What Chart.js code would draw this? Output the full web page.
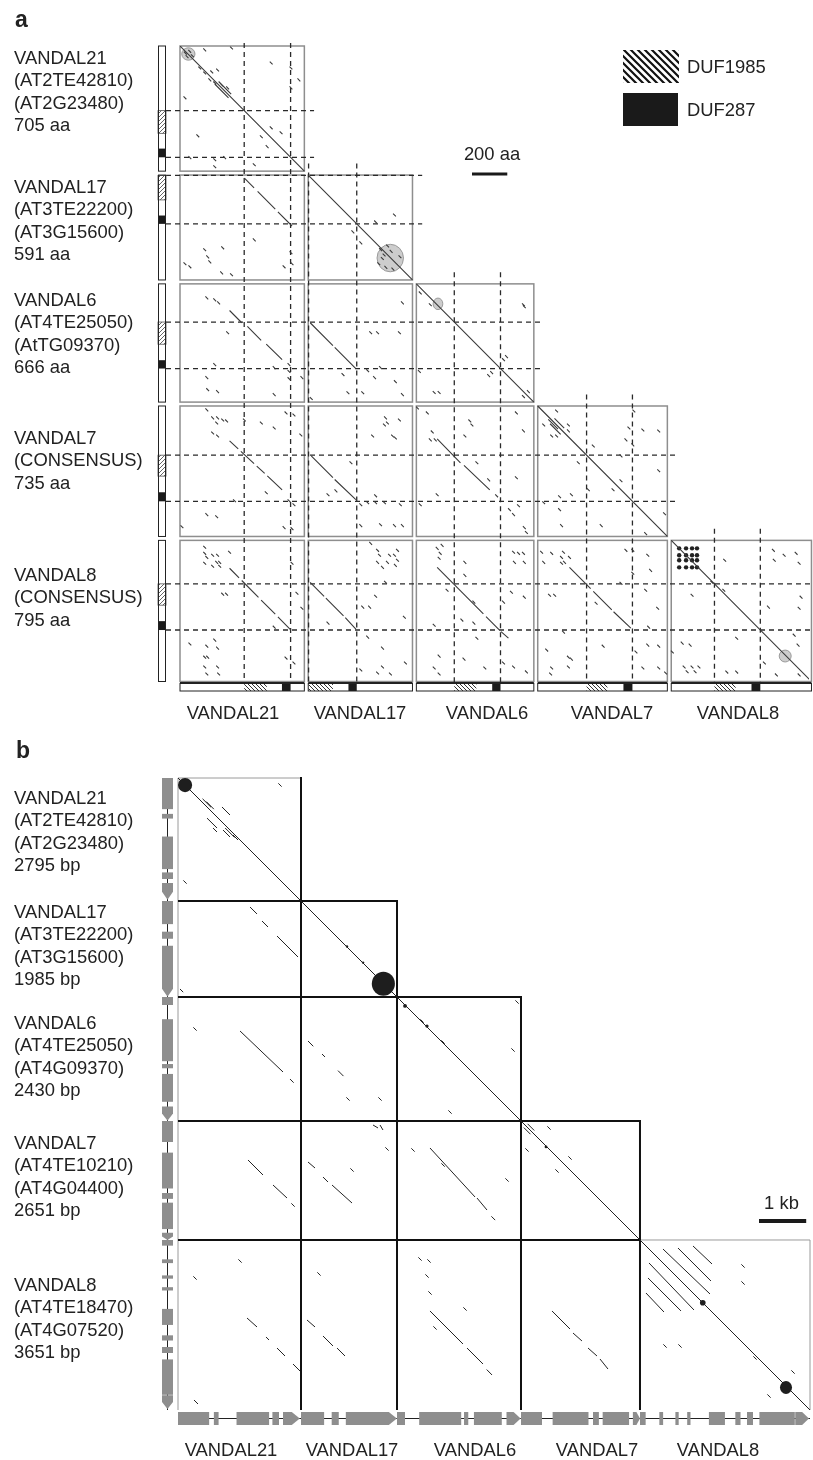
<!DOCTYPE html>
<html>
<head>
<meta charset="utf-8">
<title>VANDAL dot plots</title>
<script src="https://cdn.jsdelivr.net/npm/chart.js@4.4.1/dist/chart.umd.min.js"></script>
<style>
  html, body { margin: 0; padding: 0; background: #fff; }
  body { width: 813px; height: 1460px; overflow: hidden; position: relative; font-family: "Liberation Sans", Arial, sans-serif; color: #222; }
  canvas { position: absolute; left: 0; }
  #plotA { top: 0; }
  #plotB { top: 740px; }
  .txt { position: absolute; font-size: 18.4px; line-height: 22.5px; white-space: nowrap; }
  .mid { transform: translateX(-50%); }
  .tag { position: absolute; font-size: 23px; line-height: 23px; font-weight: bold; }
</style>
</head>
<body>
<canvas id="plotA" width="813" height="740"></canvas>
<canvas id="plotB" width="813" height="720"></canvas>
<script>
// ---------- panel a : protein dot plots (aa) ----------
var protNames = ['VANDAL21', 'VANDAL17', 'VANDAL6', 'VANDAL7', 'VANDAL8'];
var protIds = [['(AT2TE42810)', '(AT2G23480)'], ['(AT3TE22200)', '(AT3G15600)'], ['(AT4TE25050)', '(AtTG09370)'], ['(CONSENSUS)'], ['(CONSENSUS)']];
var protLen = [705, 591, 666, 735, 795];
var duf1985 = [[364, 492], [2, 140], [215, 340], [277, 395], [245, 365]];
var duf287 = [[578, 627], [228, 275], [430, 477], [486, 537], [455, 505]];

// hits per cell: segments [x1,y1,x2,y2], short hits [x,y], blobs [x1,y1,x2,y2]  (x = column element, y = row element)
var a21_21 = [[0, 0, 705, 705], [197, 214, 275, 292], [219, 200, 290, 271]];
var a21_21d = [[112, 124], [140, 152], [180, 146], [213, 135], [169, 191], [236, 219], [270, 236], [197, 208], [292, 11], [140, 22], [517, 96], [629, 124], [674, 191], [629, 236], [28, 292], [517, 461], [573, 489], [461, 511], [101, 506], [494, 567], [56, 629], [197, 641], [253, 629], [197, 680], [421, 669], [30, 40], [55, 30], [40, 60], [70, 55]];
var a21_21b = [[10, 10, 85, 80]];

var a17_21 = [[365, 17, 420, 72], [440, 92, 540, 192], [555, 207, 635, 287]];
var a17_21d = [[140, 421], [157, 461], [169, 489], [242, 410], [28, 500], [56, 517], [421, 365], [635, 500], [590, 517], [236, 551], [292, 562], [629, 438]];
var a17_17 = [[0, 0, 591, 591]];
var a17_17d = [[382, 264], [253, 320], [298, 382], [489, 225], [420, 470], [470, 430], [500, 500], [440, 520], [410, 420], [450, 400], [520, 460], [400, 500], [480, 530], [430, 450]];
var a17_17b = [[390, 390, 540, 545]];

var a6_21 = [[281, 150, 350, 219], [382, 240, 460, 318], [489, 340, 579, 427]];
var a6_21d = [[152, 79], [197, 90], [219, 107], [270, 275], [197, 455], [152, 528], [157, 596], [213, 607], [534, 472], [618, 494], [691, 528], [534, 624], [618, 455], [618, 534]];
var a6_17 = [[11, 219, 140, 348], [150, 358, 270, 478]];
var a6_17d = [[354, 275], [393, 275], [517, 275], [534, 107], [337, 489], [376, 528], [494, 551], [534, 624], [197, 511], [225, 613], [309, 613], [17, 646], [410, 472]];
var a6_6 = [[0, 0, 666, 666]];
var a6_6d = [[22, 51], [79, 118], [607, 118], [612, 129], [494, 427], [511, 410], [17, 494], [410, 517], [427, 500], [101, 612], [129, 612], [635, 607], [607, 635]];
var a6_6b = [[95, 80, 150, 145]];

var a7_21 = [[281, 197, 330, 242], [345, 256, 420, 325], [435, 339, 480, 380], [495, 394, 579, 472]];
var a7_21d = [[152, 22], [185, 67], [213, 67], [242, 79], [208, 96], [264, 84], [365, 79], [461, 96], [534, 124], [601, 39], [646, 51], [685, 163], [185, 152], [213, 169], [152, 612], [208, 624], [11, 680], [590, 685], [635, 691], [489, 489], [618, 534], [646, 556], [309, 534]];
var a7_17 = [[17, 281, 140, 404], [150, 414, 270, 528]];
var a7_17d = [[438, 67], [449, 96], [432, 107], [517, 79], [365, 169], [478, 169], [494, 180], [112, 500], [157, 478], [242, 320], [298, 556], [337, 545], [382, 545], [432, 545], [522, 556], [298, 674], [410, 669], [489, 674], [534, 674], [382, 506]];
var a7_6 = [[118, 185, 250, 320], [270, 335, 416, 472]];
var a7_6d = [[6, 11], [62, 39], [303, 84], [315, 107], [90, 146], [79, 191], [107, 191], [275, 169], [343, 320], [410, 416], [567, 404], [607, 140], [567, 39], [118, 500], [455, 506], [22, 556], [528, 584], [551, 612], [579, 562], [612, 685], [624, 713]];
var a7_7 = [[0, 0, 735, 735], [60, 75, 115, 130], [70, 100, 130, 160], [95, 70, 150, 125]];
var a7_7d = [[107, 28], [34, 107], [79, 169], [107, 169], [174, 107], [174, 140], [315, 225], [230, 320], [545, 28], [517, 124], [500, 191], [539, 219], [596, 135], [686, 141], [472, 281], [686, 365], [472, 421], [427, 472], [287, 472], [34, 545], [124, 511], [191, 500], [124, 584], [135, 674], [360, 674], [612, 719], [719, 607]];

var a8_21 = [[281, 157, 335, 211], [350, 226, 445, 321], [460, 336, 540, 416], [555, 431, 629, 505]];
var a8_21d = [[140, 39], [140, 73], [152, 96], [185, 84], [213, 84], [208, 124], [225, 124], [140, 129], [185, 146], [225, 146], [281, 67], [635, 129], [663, 298], [691, 382], [242, 303], [264, 303], [534, 489], [56, 584], [152, 596], [197, 562], [213, 607], [140, 658], [157, 658], [140, 713], [213, 713], [152, 753], [219, 753], [601, 663], [646, 691]];
var a8_17 = [[11, 236, 90, 315], [100, 325, 200, 425], [210, 435, 270, 500]];
var a8_17d = [[393, 56], [404, 84], [461, 84], [489, 84], [506, 112], [393, 124], [449, 124], [494, 141], [421, 152], [354, 17], [506, 56], [438, 236], [382, 315], [309, 376], [348, 376], [545, 433], [112, 466], [337, 545], [421, 607], [551, 691], [298, 730], [393, 747], [466, 753], [421, 713]];
var a8_6 = [[118, 152, 380, 414], [395, 429, 470, 504], [480, 514, 522, 551]];
var a8_6d = [[118, 45], [135, 73], [129, 101], [146, 28], [275, 124], [275, 197], [174, 281], [326, 348], [551, 67], [579, 73], [556, 124], [607, 73], [612, 124], [539, 292], [612, 320], [494, 348], [101, 478], [258, 449], [326, 466], [343, 551], [129, 652], [270, 669], [101, 719], [129, 753], [388, 719], [494, 691], [551, 713], [624, 741]];
var a8_7 = [[180, 152, 300, 272], [315, 287, 420, 392], [430, 402, 528, 494]];
var a8_7d = [[22, 67], [79, 73], [146, 67], [135, 96], [152, 124], [180, 96], [135, 129], [34, 124], [67, 309], [96, 309], [331, 354], [500, 56], [539, 56], [624, 84], [640, 169], [539, 185], [472, 242], [612, 281], [680, 382], [629, 489], [146, 517], [371, 596], [557, 629], [624, 590], [686, 596], [51, 618], [174, 658], [191, 669], [79, 719], [174, 713], [73, 753], [596, 719], [686, 719], [725, 747]];
var a8_8 = [[0, 0, 795, 795]];
var a8_8d = [[230, 236], [298, 281], [303, 112], [118, 309], [371, 551], [107, 590], [62, 579], [579, 56], [640, 84], [584, 112], [708, 73], [725, 129], [736, 320], [725, 382], [551, 376], [697, 534], [719, 590], [528, 691], [596, 758], [725, 758], [315, 742], [371, 742], [6, 629], [73, 713], [118, 713], [157, 713], [90, 740], [135, 740]];
var a8_8b = [[612, 618, 680, 685]];
var a8_8k = [[45, 45], [84, 45], [118, 45], [146, 45], [45, 84], [84, 84], [118, 84], [146, 84], [45, 112], [84, 112], [118, 112], [146, 112], [45, 152], [84, 152], [118, 152], [146, 152]];

// ---------- panel b : DNA dot plots (bp) ----------
var dnaIds = [['(AT2TE42810)', '(AT2G23480)'], ['(AT3TE22200)', '(AT3G15600)'], ['(AT4TE25050)', '(AT4G09370)'], ['(AT4TE10210)', '(AT4G04400)'], ['(AT4TE18470)', '(AT4G07520)']];
var dnaLen = [2795, 1985, 2430, 2651, 3651];
var dnaSpan = [2606, 2034, 2627, 2521, 3602]; // plotted window per element
// exon blocks, last one is the 3' arrow
var orf21 = [[0, 660], [760, 860], [1240, 1930], [2000, 2140], [2225, 2580]];
var orf17 = [[0, 490], [650, 800], [950, 2030]];
var orf6 = [[0, 170], [470, 1360], [1420, 1510], [1630, 2220], [2320, 2620]];
var orf7 = [[0, 445], [670, 1430], [1525, 1650], [1730, 2290], [2370, 2521]];
var orf8 = [[0, 120], [410, 490], [750, 820], [1000, 1070], [1460, 1800], [2020, 2130], [2267, 2395], [2530, 3280], [3290, 3580]];

var b21_21 = [[0, 0, 2606, 2606], [615, 850, 827, 1060], [932, 614, 1102, 784], [1000, 1060, 1200, 1260], [742, 1060, 826, 1144], [1165, 1208, 1271, 1313], [954, 1102, 1102, 1250], [520, 440, 700, 620], [600, 500, 760, 660]];
var b21_21d = [[2161, 148], [148, 2204]];
var b21_21b = [[0, 0, 300, 300]];
var b17_21 = [[1526, 127, 1674, 275], [1780, 424, 1907, 551], [2098, 742, 2543, 1187], [42, 1864, 110, 1932]];
var b17_17 = [[0, 0, 2034, 2034]];
var b17_17b = [[1500, 1500, 1990, 2010], [950, 940, 1000, 990], [1290, 1280, 1340, 1330]];
var b6_21 = [[1314, 720, 2225, 1589], [2373, 1738, 2450, 1815]];
var b6_21d = [[360, 678]];
var b6_17 = [[148, 932, 260, 1044], [445, 1208, 509, 1271], [784, 1560, 900, 1676]];
var b6_17d = [[996, 2161], [1674, 2161]];
var b6_6 = [[0, 0, 2627, 2627]];
var b6_6d = [[975, 954], [530, 508], [2543, 106], [2458, 1123], [1123, 2437]];
var b6_6b = [[130, 150, 210, 230], [600, 580, 670, 650]];
var b7_21 = [[1483, 826, 1801, 1144], [2013, 1356, 2310, 1632]];
var b7_21d = [[2437, 1780]];
var b7_17 = [[148, 869, 297, 996], [466, 1187, 572, 1293], [657, 1356, 1081, 1738], [1526, 85, 1632, 148], [1674, 85, 1737, 191]];
var b7_17d = [[1081, 1038], [1822, 593]];
var b7_6 = [[699, 572, 1653, 1610], [1695, 1632, 1907, 1886], [2000, 2020, 2080, 2100]];
var b7_6d = [[339, 614], [2331, 1250], [975, 932]];
var b7_7 = [[0, 0, 2521, 2521], [60, 140, 200, 280], [140, 60, 280, 200]];
var b7_7d = [[1038, 784], [127, 614], [763, 1059], [593, 148]];
var b7_7b = [[500, 520, 560, 580]];
var b8_21 = [[1462, 1653, 1674, 1843], [1865, 2055, 1928, 2119], [2098, 2289, 2267, 2458], [2437, 2628, 2585, 2776], [339, 3390, 424, 3475]];
var b8_21d = [[1314, 445], [360, 805]];
var b8_17 = [[127, 1695, 297, 1843], [466, 2034, 678, 2246], [763, 2289, 932, 2458]];
var b8_17d = [[381, 720]];
var b8_6 = [[699, 1504, 1398, 2204], [1483, 2289, 1822, 2628], [1900, 2745, 2013, 2860]];
var b8_6d = [[487, 403], [678, 445], [636, 763], [699, 1123], [1441, 1462], [805, 1864]];
var b8_7 = [[657, 1504, 1038, 1886], [1102, 1971, 1292, 2140], [1420, 2289, 1610, 2458], [1674, 2522, 1843, 2734]];
var b8_8 = [[0, 0, 3602, 3602], [1123, 127, 1526, 508], [805, 170, 1504, 869], [487, 191, 1483, 1144], [191, 487, 1144, 1483], [170, 805, 869, 1504], [127, 1123, 508, 1526]];
var b8_8d = [[2437, 2500], [2183, 551], [2183, 911], [530, 2246], [848, 2246], [3242, 2797], [2712, 2712], [2733, 3306]];
var b8_8b = [[2966, 2988, 3221, 3263], [1270, 1270, 1390, 1390]];

// ---------- cell tables ----------
var protCells = [
  [0, 0, a21_21, a21_21d, a21_21b],
  [1, 0, a17_21, a17_21d, []], [1, 1, a17_17, a17_17d, a17_17b],
  [2, 0, a6_21, a6_21d, []], [2, 1, a6_17, a6_17d, []], [2, 2, a6_6, a6_6d, a6_6b],
  [3, 0, a7_21, a7_21d, []], [3, 1, a7_17, a7_17d, []], [3, 2, a7_6, a7_6d, []], [3, 3, a7_7, a7_7d, []],
  [4, 0, a8_21, a8_21d, []], [4, 1, a8_17, a8_17d, []], [4, 2, a8_6, a8_6d, []], [4, 3, a8_7, a8_7d, []], [4, 4, a8_8, a8_8d, a8_8b]
];
var dnaCells = [
  [0, 0, b21_21, b21_21d, b21_21b],
  [1, 0, b17_21, [], []], [1, 1, b17_17, [], b17_17b],
  [2, 0, b6_21, b6_21d, []], [2, 1, b6_17, b6_17d, []], [2, 2, b6_6, b6_6d, b6_6b],
  [3, 0, b7_21, b7_21d, []], [3, 1, b7_17, b7_17d, []], [3, 2, b7_6, b7_6d, []], [3, 3, b7_7, b7_7d, b7_7b],
  [4, 0, b8_21, b8_21d, []], [4, 1, b8_17, b8_17d, []], [4, 2, b8_6, b8_6d, []], [4, 3, b8_7, [], []], [4, 4, b8_8, b8_8d, b8_8b]
];
var dnaOrfs = [orf21, orf17, orf6, orf7, orf8];

var gapAA = 22;
var protOff = [], protTotal = 0;
protLen.forEach(function (l, i) { protOff.push(protTotal); protTotal += l + (i < protLen.length - 1 ? gapAA : 0); });
var dnaOff = [], dnaTotal = 0;
dnaSpan.forEach(function (l) { dnaOff.push(dnaTotal); dnaTotal += l; });

function toPts(off, cell, tick) {
  var r = cell[0], c = cell[1], pts = [];
  cell[2].forEach(function (s) {
    pts.push({ x: off[c] + s[0], y: off[r] + s[1] }, { x: off[c] + s[2], y: off[r] + s[3] }, { x: null, y: null });
  });
  cell[3].forEach(function (d) {
    pts.push({ x: off[c] + d[0] - tick / 2, y: off[r] + d[1] - tick / 2 }, { x: off[c] + d[0] + tick / 2, y: off[r] + d[1] + tick / 2 }, { x: null, y: null });
  });
  return pts;
}

function hatch(ctx, back, color, gap, lw) {
  var c = document.createElement('canvas');
  c.width = gap; c.height = gap;
  var g = c.getContext('2d');
  g.strokeStyle = color; g.lineWidth = lw;
  g.beginPath();
  if (back) {
    g.moveTo(-1, -1); g.lineTo(gap + 1, gap + 1);
    g.moveTo(gap - 2, -2); g.lineTo(gap + 2, 2);
    g.moveTo(-2, gap - 2); g.lineTo(2, gap + 2);
  } else {
    g.moveTo(-1, gap + 1); g.lineTo(gap + 1, -1);
    g.moveTo(-2, 2); g.lineTo(2, -2);
    g.moveTo(gap - 2, gap + 2); g.lineTo(gap + 2, gap - 2);
  }
  g.stroke();
  return ctx.createPattern(c, 'repeat');
}

function seg(ctx, x0, y0, x1, y1) {
  ctx.beginPath(); ctx.moveTo(x0, y0); ctx.lineTo(x1, y1); ctx.stroke();
}

function drawBlobs(chart, off, cells, fill, stroke) {
  var ctx = chart.ctx, xs = chart.scales.x, ys = chart.scales.y;
  ctx.save();
  cells.forEach(function (cell) {
    cell[4].forEach(function (b) {
      var x0 = xs.getPixelForValue(off[cell[1]] + b[0]), x1 = xs.getPixelForValue(off[cell[1]] + b[2]);
      var y0 = ys.getPixelForValue(off[cell[0]] + b[1]), y1 = ys.getPixelForValue(off[cell[0]] + b[3]);
      ctx.beginPath();
      ctx.ellipse((x0 + x1) / 2, (y0 + y1) / 2, Math.abs(x1 - x0) / 2, Math.abs(y1 - y0) / 2, 0, 0, Math.PI * 2);
      ctx.fillStyle = fill; ctx.fill();
      if (stroke) { ctx.strokeStyle = stroke; ctx.lineWidth = 1; ctx.stroke(); }
    });
  });
  ctx.restore();
}

// ---------- panel a frame ----------
var protFrame = {
  id: 'protFrame',
  beforeDatasetsDraw: function (chart) {
    var ctx = chart.ctx, xs = chart.scales.x, ys = chart.scales.y;
    var sx = function (v) { return xs.getPixelForValue(v); }, sy = function (v) { return ys.getPixelForValue(v); };
    ctx.save();
    ctx.strokeStyle = '#8e8e8e'; ctx.lineWidth = 1.5;
    protCells.forEach(function (cell) {
      var r = cell[0], c = cell[1];
      var x0 = sx(protOff[c]), x1 = sx(protOff[c] + protLen[c]);
      var y0 = sy(protOff[r]), y1 = sy(protOff[r] + protLen[r]);
      ctx.strokeRect(x0, y0, x1 - x0, y1 - y0);
    });
    // blobs sit under the hits
    ctx.restore();
    drawBlobs(chart, protOff, protCells, '#cdcdcd', '#9a9a9a');
    ctx.save();
    // dashed guides at DUF1985 start and DUF287 end
    ctx.setLineDash([5, 4]); ctx.strokeStyle = '#2a2a2a'; ctx.lineWidth = 1.3;
    var bottom = sy(protTotal) + 1;
    for (var i = 0; i < protLen.length; i++) {
      [duf1985[i][0], duf287[i][1]].forEach(function (v) {
        var y = sy(protOff[i] + v);
        seg(ctx, 166, y, sx(protOff[i] + protLen[i] + 55), y);
        var x = sx(protOff[i] + v);
        seg(ctx, x, sy(Math.max(protOff[i] - 65, -17)), x, bottom);
      });
    }
    ctx.restore();
  },
  afterDraw: function (chart) {
    var ctx = chart.ctx, xs = chart.scales.x, ys = chart.scales.y;
    var sx = function (v) { return xs.getPixelForValue(v); }, sy = function (v) { return ys.getPixelForValue(v); };
    var slash = hatch(ctx, false, '#666', 4, 1);
    var back = hatch(ctx, true, '#333', 4, 1);
    ctx.save();
    // left domain bars
    for (var i = 0; i < protLen.length; i++) {
      var y0 = sy(protOff[i]), y1 = sy(protOff[i] + protLen[i]);
      ctx.fillStyle = '#fff'; ctx.fillRect(158, y0, 8, y1 - y0);
      ctx.fillStyle = slash;
      ctx.fillRect(158, sy(protOff[i] + duf1985[i][0]), 8, sy(protOff[i] + duf1985[i][1]) - sy(protOff[i] + duf1985[i][0]));
      ctx.strokeStyle = '#555'; ctx.lineWidth = 0.8;
      ctx.strokeRect(158, sy(protOff[i] + duf1985[i][0]), 8, sy(protOff[i] + duf1985[i][1]) - sy(protOff[i] + duf1985[i][0]));
      ctx.fillStyle = '#1a1a1a';
      ctx.fillRect(158, sy(protOff[i] + duf287[i][0]), 8, sy(protOff[i] + duf287[i][1]) - sy(protOff[i] + duf287[i][0]));
      ctx.strokeStyle = '#222'; ctx.lineWidth = 1;
      ctx.strokeRect(158.5, y0, 7, y1 - y0);
    }
    // bottom domain bars
    var by = Math.round(sy(protTotal)) + 1;
    for (var j = 0; j < protLen.length; j++) {
      var x0 = sx(protOff[j]), x1 = sx(protOff[j] + protLen[j]);
      ctx.fillStyle = '#fff'; ctx.fillRect(x0, by, x1 - x0, 8);
      ctx.fillStyle = back;
      ctx.fillRect(sx(protOff[j] + duf1985[j][0]), by, sx(protOff[j] + duf1985[j][1]) - sx(protOff[j] + duf1985[j][0]), 8);
      ctx.fillStyle = '#1a1a1a';
      ctx.fillRect(sx(protOff[j] + duf287[j][0]), by, sx(protOff[j] + duf287[j][1]) - sx(protOff[j] + duf287[j][0]), 8);
      ctx.strokeStyle = '#222'; ctx.lineWidth = 1;
      ctx.strokeRect(x0, by + 0.5, x1 - x0, 7.5);
      ctx.lineWidth = 2; seg(ctx, x0, by, x1, by);
    }
    // legend
    ctx.fillStyle = hatch(ctx, true, '#111', 7, 2.2);
    ctx.fillRect(623, 50, 56, 33);
    ctx.fillStyle = '#1a1a1a';
    ctx.fillRect(623, 93, 55, 33);
    // 200 aa scale bar
    ctx.fillRect(472, 172.5, sx(200) - sx(0), 3);
    ctx.restore();
  }
};

// ---------- panel b frame ----------
function drawOrf(ctx, orf, map, c, half, vertical) {
  var n = orf.length;
  ctx.fillStyle = '#8e8e8e';
  orf.forEach(function (e, k) {
    var a = map(e[0]), b = map(e[1]);
    var t = k === n - 1 ? Math.min(8, (b - a) / 2) : 0;
    ctx.beginPath();
    if (vertical) {
      ctx.moveTo(c - half, a); ctx.lineTo(c + half, a); ctx.lineTo(c + half, b - t);
      ctx.lineTo(c, b); ctx.lineTo(c - half, b - t);
    } else {
      ctx.moveTo(a, c - half); ctx.lineTo(a, c + half); ctx.lineTo(b - t, c + half);
      ctx.lineTo(b, c); ctx.lineTo(b - t, c - half);
    }
    ctx.closePath(); ctx.fill();
  });
}

var dnaFrame = {
  id: 'dnaFrame',
  beforeDatasetsDraw: function (chart) {
    var ctx = chart.ctx, xs = chart.scales.x, ys = chart.scales.y;
    var sx = function (v) { return xs.getPixelForValue(v); }, sy = function (v) { return ys.getPixelForValue(v); };
    var n = dnaSpan.length, last = dnaOff[n - 1];
    ctx.save();
    ctx.strokeStyle = '#9a9a9a'; ctx.lineWidth = 1;
    seg(ctx, sx(0), sy(0), sx(dnaOff[0] + dnaSpan[0]), sy(0));
    seg(ctx, sx(0), sy(0), sx(0), sy(dnaTotal));
    seg(ctx, sx(last), sy(last), sx(dnaTotal), sy(last));
    seg(ctx, sx(dnaTotal), sy(last), sx(dnaTotal), sy(dnaTotal));
    ctx.strokeStyle = '#111'; ctx.lineWidth = 2;
    for (var k = 1; k < n; k++) {
      var xr = k < n - 1 ? dnaOff[k] + dnaSpan[k] : dnaOff[k];
      seg(ctx, sx(0), sy(dnaOff[k]), sx(xr), sy(dnaOff[k]));
    }
    for (k = 0; k < n - 1; k++) {
      var xe = sx(dnaOff[k] + dnaSpan[k]);
      seg(ctx, xe, sy(dnaOff[k]) - 1, xe, sy(dnaTotal));
    }
    ctx.restore();
  },
  afterDatasetsDraw: function (chart) {
    drawBlobs(chart, dnaOff, dnaCells, '#1e1e1e', null);
  },
  afterDraw: function (chart) {
    var ctx = chart.ctx, xs = chart.scales.x, ys = chart.scales.y;
    ctx.save();
    for (var i = 0; i < dnaSpan.length; i++) {
      var o = dnaOff[i];
      var my = function (v) { return ys.getPixelForValue(o + v); };
      var mx = function (v) { return xs.getPixelForValue(o + v); };
      ctx.strokeStyle = '#222'; ctx.lineWidth = 1;
      seg(ctx, 167.5, my(0), 167.5, my(dnaSpan[i]));
      seg(ctx, mx(0), 678.5, mx(dnaSpan[i]), 678.5);
      drawOrf(ctx, dnaOrfs[i], my, 167.5, 5.5, true);
      drawOrf(ctx, dnaOrfs[i], mx, 678.5, 6.5, false);
    }
    // 1 kb scale bar
    ctx.fillStyle = '#1a1a1a';
    ctx.fillRect(759, 479, xs.getPixelForValue(1000) - xs.getPixelForValue(0), 4);
    ctx.restore();
  }
};

// ---------- charts ----------
var protSets = protCells.map(function (cell) {
  return { data: toPts(protOff, cell, 16), showLine: true, borderColor: '#3a3a3a', borderWidth: 1.1, pointRadius: 0, spanGaps: false };
});
protSets.push({
  data: a8_8k.map(function (p) { return { x: protOff[4] + p[0], y: protOff[4] + p[1] }; }),
  showLine: false, pointRadius: 2.2, pointBorderWidth: 0, backgroundColor: '#222'
});

var dnaSets = dnaCells.map(function (cell) {
  return { data: toPts(dnaOff, cell, 70), showLine: true, borderColor: '#222', borderWidth: 1, pointRadius: 0, spanGaps: false };
});

var baseOpts = function (pad, xmax, ymax) {
  return {
    responsive: false, animation: false, devicePixelRatio: 1, events: [],
    layout: { padding: pad },
    scales: {
      x: { type: 'linear', min: 0, max: xmax, display: false },
      y: { type: 'linear', min: 0, max: ymax, reverse: true, display: false }
    },
    plugins: { legend: { display: false }, tooltip: { enabled: false } }
  };
};

// last protein column runs off the right edge, like the original
new Chart(document.getElementById('plotA'), {
  type: 'scatter',
  data: { datasets: protSets },
  options: baseOpts({ left: 180, right: 0, top: 46, bottom: 58.5 }, protTotal - 14, protTotal),
  plugins: [protFrame]
});

new Chart(document.getElementById('plotB'), {
  type: 'scatter',
  data: { datasets: dnaSets },
  options: baseOpts({ left: 178, right: 3, top: 38, bottom: 50 }, dnaTotal, dnaTotal),
  plugins: [dnaFrame]
});

// ---------- text ----------
function addText(html, left, top, cls) {
  var d = document.createElement('div');
  d.className = cls; d.style.left = left + 'px'; d.style.top = top + 'px';
  d.innerHTML = html;
  document.body.appendChild(d);
}
addText('a', 15, 7.5, 'tag');
addText('b', 16, 738.5, 'tag');

var protLabelTop = [46.75, 175.75, 288.75, 426.75, 563.75];
var dnaLabelTop = [786.75, 900.75, 1011.75, 1131.75, 1273.75];
var protColX = [233, 360, 487, 612, 738];
var dnaColX = [231, 352, 475, 597, 718];
for (var i = 0; i < protNames.length; i++) {
  addText([protNames[i]].concat(protIds[i], [protLen[i] + ' aa']).join('<br>'), 14, protLabelTop[i], 'txt');
  addText([protNames[i]].concat(dnaIds[i], [dnaLen[i] + ' bp']).join('<br>'), 14, dnaLabelTop[i], 'txt');
  addText(protNames[i], protColX[i], 701.75, 'txt mid');
  addText(protNames[i], dnaColX[i], 1438.75, 'txt mid');
}
addText('DUF1985', 687, 55.75, 'txt');
addText('DUF287', 687, 98.75, 'txt');
addText('200 aa', 492, 142.75, 'txt mid');
addText('1 kb', 781.5, 1191.75, 'txt mid');
</script>
</body>
</html>
